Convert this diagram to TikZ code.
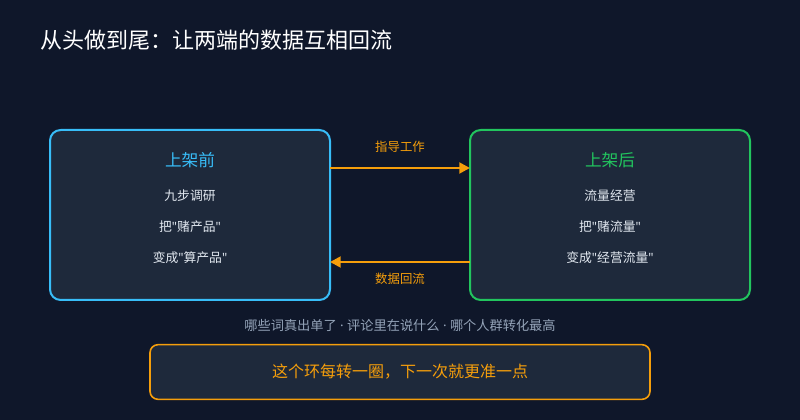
\documentclass[tikz,border=0pt]{standalone}
\usepackage{fontspec}
\setmainfont{Noto Sans CJK SC}
\newfontfamily\latinfont{Noto Sans}
\newcommand{\q}{{\latinfont"}}
\newcommand{\sep}{{\latinfont\ ·\ }}
\usetikzlibrary{arrows.meta}
\usetikzlibrary{positioning}
\definecolor{bgnavy}{HTML}{0F172A}
\definecolor{boxfill}{HTML}{1E293B}
\definecolor{skyblue}{HTML}{38BDF8}
\definecolor{leafgreen}{HTML}{22C55E}
\definecolor{amber}{HTML}{F59E0B}
\definecolor{mutedgray}{HTML}{94A3B8}
\definecolor{softwhite}{HTML}{E2E8F0}
\begin{document}
\begin{tikzpicture}[x=0.75pt, y=-0.75pt,
        stage_style/.style={draw, line width=1.5pt, fill=boxfill, rounded corners=8pt, minimum width=210pt, minimum height=127.5pt},
        title_style/.style={font=\fontsize{12.5}{14}\selectfont},
        item_style/.style={text=softwhite, font=\fontsize{9.6}{11}\selectfont},
        flow_style/.style={draw=amber, line width=2pt, -{Triangle[length=8pt,width=8pt]}},
        flow_label/.style={text=amber, font=\fontsize{9.3}{11}\selectfont}]
        \fill [bgnavy] (0,0) rectangle (800,420);
        \useasboundingbox (0,0) rectangle (800,420);

        \node [anchor=west, text=white, font=\fontsize{16.5}{19}\selectfont] (title) at (36,40) {从头做到尾：让两端的数据互相回流};

        \node [stage_style, draw=skyblue] (before) at (190,215) {};
        \node [stage_style, draw=leafgreen] (after) at (610,215) {};

        \node [title_style, text=skyblue] (beforehead) at (190,160) {上架前};
        \node [item_style] (b1) at (190,196) {九步调研};
        \node [item_style] (b2) at (190,227) {把\q 赌产品\q};
        \node [item_style] (b3) at (190,258) {变成\q 算产品\q};

        \node [title_style, text=leafgreen] (afterhead) at (610,160) {上架后};
        \node [item_style] (a1) at (610,196) {流量经营};
        \node [item_style] (a2) at (610,227) {把\q 赌流量\q};
        \node [item_style] (a3) at (610,258) {变成\q 经营流量\q};

        \coordinate (topfrom) at (330,168);
        \coordinate (topto) at (470,168);
        \coordinate (botfrom) at (470,262);
        \coordinate (botto) at (330,262);
        \draw [flow_style] (topfrom) -- (topto);
        \draw [flow_style] (botfrom) -- (botto);
        \node [flow_label] (guide) at (400,147) {指导工作};
        \node [flow_label] (backflow) at (400,279) {数据回流};

        \node [text=mutedgray, font=\fontsize{9.9}{11}\selectfont] (hint) at (400,325) {哪些词真出单了\sep 评论里在说什么\sep 哪个人群转化最高};

        \node [draw=amber, line width=1.2pt, fill=boxfill, rounded corners=6pt, minimum width=375pt, minimum height=41pt,
               text=amber, font=\fontsize{12}{14}\selectfont] (loop) at (400,372) {这个环每转一圈，下一次就更准一点};
        \end{tikzpicture}
\end{document}
